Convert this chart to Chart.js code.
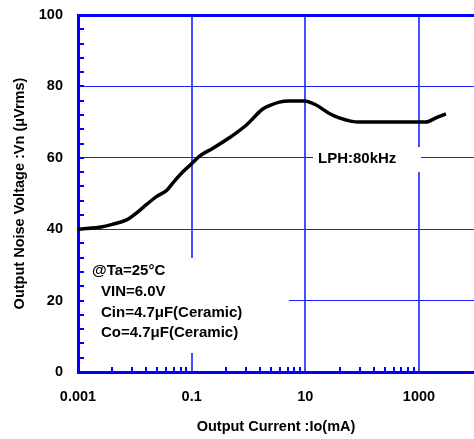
<!DOCTYPE html>
<html>
<head>
<meta charset="utf-8">
<script src="https://cdn.jsdelivr.net/npm/chart.js@4"></script>
<style>
html, body { margin: 0; padding: 0; background: #fff; }
#wrap { width: 474px; height: 439px; }
</style>
</head>
<body>
<div id="wrap"><canvas id="noiseChart" width="474" height="439"></canvas></div>
<script>
// output current (mA) vs output noise voltage (uVrms)
const currentMA = [0.001, 0.0027, 0.0041, 0.0072, 0.0108, 0.0163, 0.0243, 0.036, 0.0464, 0.0695,
    0.104, 0.138, 0.233, 0.46, 0.92, 1.76, 2.33, 3.5, 5.2, 9.6,
    15.5, 26, 39.5, 88, 200, 1300, 2070, 2980];
const noiseUV = [40, 40.7, 41.4, 42.6, 44.6, 47, 49.2, 50.8, 52.9, 56,
    58.6, 60.5, 62.6, 65.6, 69.2, 73.6, 74.6, 75.6, 75.9, 75.9,
    74.8, 72.5, 71.2, 70, 70, 70, 71.3, 72.3];

const xTicks = [0.001, 0.1, 10, 1000];
const yTicks = [0, 20, 40, 60, 80, 100];
const conditions = ['@Ta=25°C', 'VIN=6.0V', 'Cin=4.7μF(Ceramic)', 'Co=4.7μF(Ceramic)'];
const filterNote = 'LPH:80kHz';

const FONT = '"Liberation Sans", Arial, sans-serif';
const AXIS_BLUE = '#0000ff';

// minor ticks: each major step spans two decades, subdivided like one decade
const xMinor = [4, 9, 16, 25, 36, 49, 64, 81].flatMap(k => xTicks.slice(0, -1).map(d => d * k));

const overlayPlugin = {
    id: 'overlay',
    beforeDatasetsDraw(chart) {
        const { ctx, chartArea: a, scales: { x, y } } = chart;
        ctx.save();
        // white label boxes hide the grid behind them
        ctx.fillStyle = '#fff';
        ctx.fillRect(a.left + 2, 258, 209, 95);
        ctx.fillRect(313, 147, 108, 25);

        // inward minor ticks
        ctx.strokeStyle = AXIS_BLUE;
        ctx.lineWidth = 2;
        ctx.beginPath();
        for (let v = 4; v < 100; v += 4) {
            const py = Math.round(y.getPixelForValue(v));
            ctx.moveTo(a.left, py);
            ctx.lineTo(a.left + 6, py);
        }
        xMinor.forEach(v => {
            const px = Math.round(x.getPixelForValue(v));
            ctx.moveTo(px, a.bottom);
            ctx.lineTo(px, a.bottom - 5);
        });
        ctx.stroke();

        // notes
        ctx.fillStyle = '#000';
        ctx.font = 'bold 15px ' + FONT;
        ctx.textBaseline = 'middle';
        ctx.textAlign = 'left';
        ctx.fillText(conditions[0], 92, 271);
        ctx.fillText(conditions[1], 101, 292);
        ctx.fillText(conditions[2], 101, 313);
        ctx.fillText(conditions[3], 101, 333);
        ctx.fillText(filterNote, 318, 159);
        ctx.restore();
    }
};

const tickFont = { family: FONT, size: 14.5, weight: 'bold' };

new Chart(document.getElementById('noiseChart'), {
    type: 'line',
    data: {
        datasets: [{
            data: currentMA.map((c, i) => ({ x: c, y: noiseUV[i] })),
            borderColor: '#000',
            borderWidth: 3.5,
            pointRadius: 0,
            tension: 0.4,
            cubicInterpolationMode: 'monotone',
            fill: false
        }]
    },
    options: {
        responsive: false,
        animation: false,
        devicePixelRatio: 1,
        layout: { padding: { top: 15, right: 0, left: 0, bottom: 0 } },
        plugins: {
            legend: { display: false },
            tooltip: { enabled: false }
        },
        scales: {
            x: {
                type: 'logarithmic',
                min: 0.001,
                max: 9300,
                afterBuildTicks: s => { s.ticks = xTicks.map(v => ({ value: v })); },
                afterFit: s => {
                    s.height = 67;
                    s.paddingLeft = 0;
                    s.paddingRight = 0;
                },
                ticks: {
                    callback: v => String(v),
                    font: tickFont,
                    color: '#000',
                    padding: 16,
                    maxRotation: 0,
                    autoSkip: false
                },
                grid: {
                    color: 'rgb(75, 75, 255)',
                    lineWidth: c => (c.tick && c.tick.value === 0.001 ? 0 : 2),
                    drawTicks: false,
                    tickLength: 0
                },
                border: { color: AXIS_BLUE, width: 3 },
                title: {
                    display: true,
                    text: 'Output Current :Io(mA)',
                    font: tickFont,
                    color: '#000',
                    padding: { top: 0, bottom: 3 }
                }
            },
            y: {
                type: 'linear',
                min: 0,
                max: 100,
                afterBuildTicks: s => { s.ticks = yTicks.map(v => ({ value: v })); },
                afterFit: s => {
                    s.width = 78;
                    s.paddingTop = 0;
                    s.paddingBottom = 0;
                },
                ticks: {
                    font: tickFont,
                    color: '#000',
                    padding: 15
                },
                grid: {
                    color: c => (c.tick && c.tick.value === 100 ? AXIS_BLUE : 'rgb(30, 30, 255)'),
                    lineWidth: c => {
                        if (!c.tick) return 1;
                        if (c.tick.value === 100) return 3;
                        return c.tick.value === 0 ? 0 : 1;
                    },
                    drawTicks: false,
                    tickLength: 0
                },
                border: { color: AXIS_BLUE, width: 3 },
                title: {
                    display: true,
                    text: 'Output Noise Voltage :Vn (μVrms)',
                    font: tickFont,
                    color: '#000',
                    padding: { top: 11, bottom: 0 }
                }
            }
        }
    },
    plugins: [overlayPlugin]
});
</script>
</body>
</html>
